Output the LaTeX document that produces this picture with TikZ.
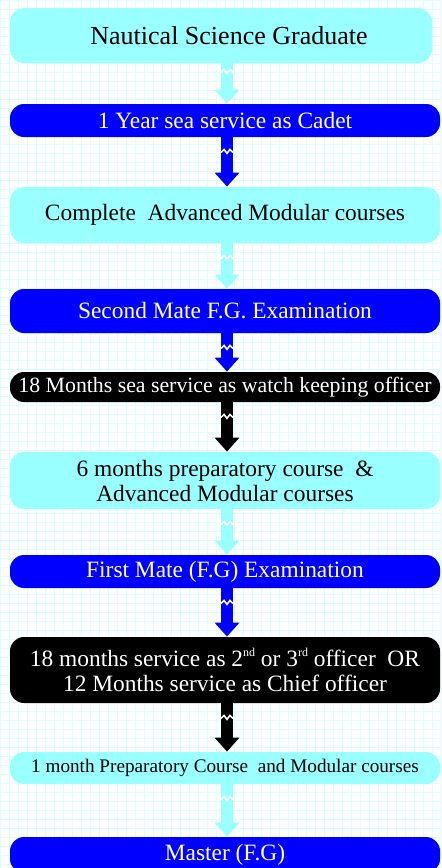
\documentclass[tikz,border=0pt]{standalone}
\usepackage{fontspec}
\setmainfont{Liberation Serif}
\usetikzlibrary{arrows.meta,calc}
\definecolor{boxcyan}{HTML}{99FFFF}
\definecolor{boxblue}{HTML}{0000FF}
\definecolor{gridcyan}{HTML}{DCFFFF}
\newcommand{\ordsup}[1]{\raisebox{0.9ex}{\fontsize{6}{6}\selectfont #1}}

\begin{document}
\begin{tikzpicture}[
    x=0.5pt, y=-0.5pt,
    stage/.style={rectangle, rounded corners=7pt, inner sep=0pt,
      minimum width=215pt, align=center,
      font=\fontsize{11.7}{12.5}\selectfont},
    light/.style={stage, fill=boxcyan, text=black},
    dark/.style={stage, fill=boxblue, text=white},
    night/.style={stage, fill=black, text=white},
    flow/.style={line width=6pt, draw=#1, -{Triangle[width=12pt,length=7pt]}},
    brk/.style={white, line width=0.8pt},
    ]
  \clip (0,0) rectangle (441,868);
  \fill[white] (0,0) rectangle (441,868);
  \draw[gridcyan, line width=0.5pt, step=4.5pt] (0,0) grid (441,868);
  \coordinate (ax) at (227,0);

  \node[light, minimum width=211pt, minimum height=27.5pt,
    font=\fontsize{13}{15}\selectfont] (grad) at (221,35.5) {\hspace*{8pt}Nautical Science Graduate};
  \node[dark, minimum height=16.5pt] (cadet) at (225,120.5) {1 Year sea service as Cadet};
  \node[light, minimum height=28pt] (amc) at (225,215) {Complete\ \ Advanced Modular courses};
  \node[dark, minimum height=22pt] (smexam) at (225,311) {Second Mate F.G. Examination};
  \node[night, minimum height=15pt,
    font=\fontsize{10.9}{12}\selectfont] (wko) at (225,387) {18 Months sea service as watch keeping officer};
  \node[light, minimum height=28.5pt] (prep) at (225,480.5) {6 months preparatory course\ \ \&\\Advanced Modular courses};
  \node[dark, minimum height=16.5pt] (fmexam) at (225,571.5) {First Mate (F.G) Examination};
  \node[night, minimum height=33pt] (officer) at (225,670) {18 months service as 2\ordsup{nd} or 3\ordsup{rd} officer\ \ OR\\12 Months service as Chief officer};
  \node[light, minimum height=16pt,
    font=\fontsize{9.6}{11}\selectfont] (mprep) at (225,768) {1 month Preparatory Course\ \ and Modular courses};
  \node[dark, minimum height=18pt] (master) at (225,855) {Master (F.G)};

  \draw[flow=boxcyan] (grad.south -| ax) -- (cadet.north -| ax);
  \draw[brk] ($(grad.south -| ax)+(-6,9)$) -- ++(3,-3) -- ++(3,4) -- ++(3,-4) -- ++(3,3);
  \draw[flow=boxblue] (cadet.south -| ax) -- (amc.north -| ax);
  \draw[brk] ($(cadet.south -| ax)+(-6,15)$) -- ++(3,-3) -- ++(3,4) -- ++(3,-4) -- ++(3,3);
  \draw[flow=boxcyan] (amc.south -| ax) -- (smexam.north -| ax);
  \draw[brk] ($(amc.south -| ax)+(-6,15)$) -- ++(3,-3) -- ++(3,4) -- ++(3,-4) -- ++(3,3);
  \draw[flow=boxblue] (smexam.south -| ax) -- (wko.north -| ax);
  \draw[brk] ($(smexam.south -| ax)+(-6,15)$) -- ++(3,-3) -- ++(3,4) -- ++(3,-4) -- ++(3,3);
  \draw[flow=black] (wko.south -| ax) -- (prep.north -| ax);
  \draw[brk] ($(wko.south -| ax)+(-6,15)$) -- ++(3,-3) -- ++(3,4) -- ++(3,-4) -- ++(3,3);
  \draw[flow=boxcyan] (prep.south -| ax) -- (fmexam.north -| ax);
  \draw[brk] ($(prep.south -| ax)+(-6,15)$) -- ++(3,-3) -- ++(3,4) -- ++(3,-4) -- ++(3,3);
  \draw[flow=boxblue] (fmexam.south -| ax) -- (officer.north -| ax);
  \draw[brk] ($(fmexam.south -| ax)+(-6,15)$) -- ++(3,-3) -- ++(3,4) -- ++(3,-4) -- ++(3,3);
  \draw[flow=black] (officer.south -| ax) -- (mprep.north -| ax);
  \draw[brk] ($(officer.south -| ax)+(-6,15)$) -- ++(3,-3) -- ++(3,4) -- ++(3,-4) -- ++(3,3);
  \draw[flow=boxcyan] (mprep.south -| ax) -- (master.north -| ax);
  \draw[brk] ($(mprep.south -| ax)+(-6,15)$) -- ++(3,-3) -- ++(3,4) -- ++(3,-4) -- ++(3,3);
\end{tikzpicture}
\end{document}
